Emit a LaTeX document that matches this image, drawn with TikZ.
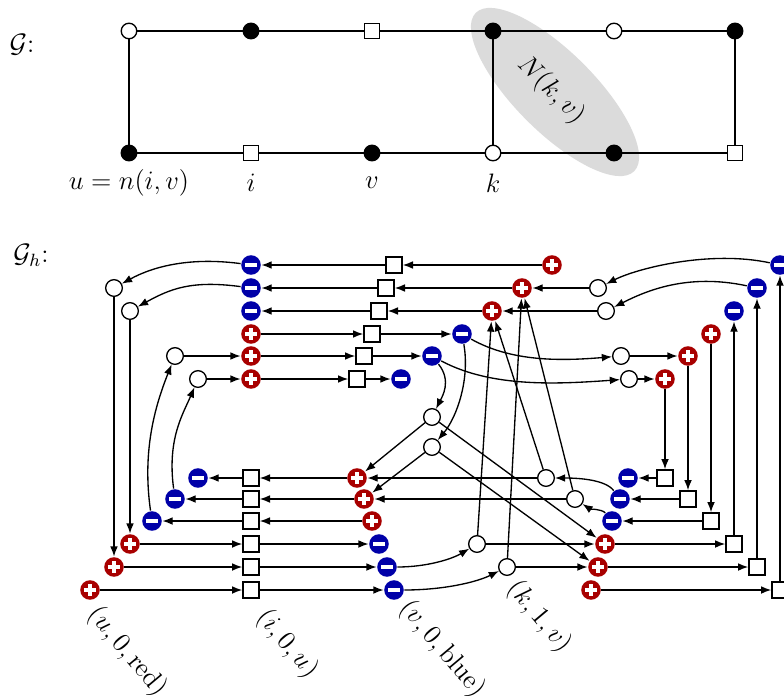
\documentclass[tikz,border=0pt]{standalone}
\usetikzlibrary{arrows.meta}
\definecolor{pcol}{RGB}{168,0,0}
\definecolor{ncol}{RGB}{0,0,168}
\begin{document}
\begin{tikzpicture}[x=0.45pt,y=-0.45pt,
  font=\fontsize{12}{14}\selectfont,
  every path/.style={line width=0.6pt},
  wc/.style={circle,draw,fill=white,minimum size=7.5pt,inner sep=0pt},
  tw/.style={circle,draw,fill=white,minimum size=7pt,inner sep=0pt},
  tb/.style={circle,draw,fill=black,minimum size=7pt,inner sep=0pt},
  ts/.style={rectangle,draw,fill=white,minimum size=6.8pt,inner sep=0pt},
  sq/.style={rectangle,draw,fill=white,minimum size=7.3pt,inner sep=0pt},
  posn/.style={circle,fill=pcol,minimum size=8.8pt,inner sep=0pt,
    path picture={\fill[white] ([xshift=-2.7pt,yshift=-0.7pt]path picture bounding box.center) rectangle ([xshift=2.7pt,yshift=0.7pt]path picture bounding box.center);
      \fill[white] ([xshift=-0.7pt,yshift=-2.7pt]path picture bounding box.center) rectangle ([xshift=0.7pt,yshift=2.7pt]path picture bounding box.center);}},
  negn/.style={circle,fill=ncol,minimum size=8.8pt,inner sep=0pt,
    path picture={\fill[white] ([xshift=-2.7pt,yshift=-0.7pt]path picture bounding box.center) rectangle ([xshift=2.7pt,yshift=0.7pt]path picture bounding box.center);}},
  ar/.style={-{Latex[length=4.6pt,width=3.5pt]}},
  lbl/.style={rotate=-50}
]
\useasboundingbox (0,0) rectangle (784,700);

% ---------- graph G ----------
\fill[black!14, rotate around={-45:(555,92)}] (555,92) ellipse [x radius=112, y radius=40];
\node[rotate=-45] (Nkv) at (551,90) {$N(k,v)$};
\node (lG) at (22,45) {$\mathcal{G}$:};
\node[tw] (gT1) at (129,31) {};
\node[tb] (gT2) at (251,31) {};
\node[ts] (gT3) at (372,31) {};
\node[tb] (gT4) at (493,31) {};
\node[tw] (gT5) at (614,31) {};
\node[tb] (gT6) at (735,31) {};
\node[tb] (gB1) at (129,153) {};
\node[ts] (gB2) at (251,153) {};
\node[tb] (gB3) at (372,153) {};
\node[tw] (gB4) at (493,153) {};
\node[tb] (gB5) at (614,153) {};
\node[ts] (gB6) at (735,153) {};
\draw (gT1) -- (gT2) -- (gT3) -- (gT4) -- (gT5) -- (gT6);
\draw (gB1) -- (gB2) -- (gB3) -- (gB4) -- (gB5) -- (gB6);
\draw (gT1) -- (gB1);
\draw (gT4) -- (gB4);
\draw (gT6) -- (gB6);
\node (lu) at (129,183) {$u=n(i,v)$};
\node (li) at (251,183) {$i$};
\node (lv) at (372,183) {$v$};
\node (lk) at (493,183) {$k$};

% ---------- graph G_h ----------
\node (lGh) at (31,255) {$\mathcal{G}_h$:};
% upper rows
\node[negn] (mA1) at (251,265) {};
\node[sq]   (sA1) at (394,265) {};
\node[posn] (pA1) at (552,265) {};
\node[negn] (mA2) at (251,288) {};
\node[sq]   (sA2) at (386,288) {};
\node[posn] (pA2) at (522,288) {};
\node[wc]   (cA2) at (598,288) {};
\node[negn] (mA3) at (251,311) {};
\node[sq]   (sA3) at (379,311) {};
\node[posn] (pA3) at (492,311) {};
\node[wc]   (cA3) at (606,311) {};
\node[posn] (pA4) at (251,334) {};
\node[sq]   (sA4) at (372,334) {};
\node[negn] (mA4) at (462,334) {};
\node[wc]   (cA5) at (175,356) {};
\node[posn] (pA5) at (251,356) {};
\node[sq]   (sA5) at (364,356) {};
\node[negn] (mA5) at (432,356) {};
\node[wc]   (cR5) at (621,356) {};
\node[posn] (pR5) at (688,356) {};
\node[wc]   (cA6) at (198,379) {};
\node[posn] (pA6) at (251,379) {};
\node[sq]   (sA6) at (357,379) {};
\node[negn] (mA6) at (401,379) {};
\node[wc]   (cR6) at (629,379) {};
\node[posn] (pR6) at (665,379) {};
\node[posn] (pR4) at (711,334) {};
\node[negn] (mR3) at (734,311) {};
\node[negn] (mR2) at (757,288) {};
\node[negn] (mR1) at (780,265) {};
\node[wc]   (cL1) at (114,288) {};
\node[wc]   (cL2) at (130,311) {};
\node[wc]   (cM1) at (432,417) {};
\node[wc]   (cM2) at (432,447) {};
% lower rows
\node[negn] (mB1) at (198,478) {};
\node[sq]   (sB1) at (251,478) {};
\node[posn] (pB1) at (357,478) {};
\node[wc]   (cB1) at (546,478) {};
\node[negn] (mB1r) at (628,478) {};
\node[sq]   (sB1r) at (665,478) {};
\node[negn] (mB2) at (175,499) {};
\node[sq]   (sB2) at (251,499) {};
\node[posn] (pB2) at (364,499) {};
\node[wc]   (cB2) at (575,499) {};
\node[negn] (mB2r) at (620,499) {};
\node[sq]   (sB2r) at (688,499) {};
\node[negn] (mB3) at (152,521) {};
\node[sq]   (sB3) at (251,521) {};
\node[posn] (pB3) at (372,521) {};
\node[negn] (mB3r) at (612,521) {};
\node[sq]   (sB3r) at (711,521) {};
\node[posn] (pB4) at (130,544) {};
\node[sq]   (sB4) at (251,544) {};
\node[negn] (mB4) at (379,544) {};
\node[wc]   (cB4) at (477,544) {};
\node[posn] (pB4r) at (605,544) {};
\node[sq]   (sB4r) at (734,544) {};
\node[posn] (pB5) at (114,567) {};
\node[sq]   (sB5) at (251,567) {};
\node[negn] (mB5) at (387,567) {};
\node[wc]   (cB5) at (507,567) {};
\node[posn] (pB5r) at (598,567) {};
\node[sq]   (sB5r) at (757,567) {};
\node[posn] (pB6) at (90,590) {};
\node[sq]   (sB6) at (251,590) {};
\node[negn] (mB6) at (394,590) {};
\node[posn] (pB6r) at (591,590) {};
\node[sq]   (sB6r) at (780,590) {};

% horizontal edges, upper
\draw[ar] (pA1) -- (sA1); \draw[ar] (sA1) -- (mA1);
\draw[ar] (cA2) -- (pA2); \draw[ar] (pA2) -- (sA2); \draw[ar] (sA2) -- (mA2);
\draw[ar] (cA3) -- (pA3); \draw[ar] (pA3) -- (sA3); \draw[ar] (sA3) -- (mA3);
\draw[ar] (pA4) -- (sA4); \draw[ar] (sA4) -- (mA4);
\draw[ar] (cA5) -- (pA5); \draw[ar] (pA5) -- (sA5); \draw[ar] (sA5) -- (mA5);
\draw[ar] (cA6) -- (pA6); \draw[ar] (pA6) -- (sA6); \draw[ar] (sA6) -- (mA6);
\draw[ar] (cR5) -- (pR5);
\draw[ar] (cR6) -- (pR6);
% horizontal edges, lower
\draw[ar] (cB1) -- (pB1); \draw[ar] (pB1) -- (sB1); \draw[ar] (sB1) -- (mB1);
\draw[ar] (cB2) -- (pB2); \draw[ar] (pB2) -- (sB2); \draw[ar] (sB2) -- (mB2);
\draw[ar] (pB3) -- (sB3); \draw[ar] (sB3) -- (mB3);
\draw[ar] (sB1r) -- (mB1r);
\draw[ar] (sB2r) -- (mB2r);
\draw[ar] (sB3r) -- (mB3r);
\draw[ar] (pB4) -- (sB4); \draw[ar] (sB4) -- (mB4);
\draw[ar] (cB4) -- (pB4r); \draw[ar] (pB4r) -- (sB4r);
\draw[ar] (pB5) -- (sB5); \draw[ar] (sB5) -- (mB5);
\draw[ar] (cB5) -- (pB5r); \draw[ar] (pB5r) -- (sB5r);
\draw[ar] (pB6) -- (sB6); \draw[ar] (sB6) -- (mB6);
\draw[ar] (pB6r) -- (sB6r);
% verticals
\draw[ar] (cL1) -- (pB5);
\draw[ar] (cL2) -- (pB4);
\draw[ar] (pR6) -- (sB1r);
\draw[ar] (pR5) -- (sB2r);
\draw[ar] (pR4) -- (sB3r);
\draw[ar] (sB4r) -- (mR3);
\draw[ar] (sB5r) -- (mR2);
\draw[ar] (sB6r) -- (mR1);
% diagonals
\draw[ar] (cM1) -- (pB1);
\draw[ar] (cM2) -- (pB2);
\draw[ar] (cM1) -- (pB4r);
\draw[ar] (cM2) -- (pB5r);
\draw[ar] (cB4) -- (pA3);
\draw[ar] (cB5) -- (pA2);
\draw[ar] (cB1) -- (pA3);
\draw[ar] (cB2) -- (pA2);
% curves
\draw[ar] (mA1) .. controls +(-60,-8) and +(40,-22) .. (cL1);
\draw[ar] (mA2) .. controls +(-60,-8) and +(40,-22) .. (cL2);
\draw[ar] (mR1) .. controls +(-70,-15) and +(40,-20) .. (cA2);
\draw[ar] (mR2) .. controls +(-70,-15) and +(40,-20) .. (cA3);
\draw[ar] (mA4) .. controls +(50,28) and +(-60,5) .. (cR5);
\draw[ar] (mA5) .. controls +(60,32) and +(-70,5) .. (cR6);
\draw[ar] (mA4) .. controls +(8,45) and +(25,-30) .. (cM2);
\draw[ar] (mA5) .. controls +(20,25) and +(10,-20) .. (cM1);
\draw[ar] (mB3r) .. controls +(-10,-12) and +(15,10) .. (cB2);
\draw[ar] (mB2r) .. controls +(-15,-20) and +(30,0) .. (cB1);
\draw[ar] (mB5) .. controls +(40,0) and +(-25,15) .. (cB4);
\draw[ar] (mB6) .. controls +(50,0) and +(-30,15) .. (cB5);
\draw[ar] (mB3) .. controls +(-10,-70) and +(-20,50) .. (cA5);
\draw[ar] (mB2) .. controls +(-8,-60) and +(-15,35) .. (cA6);

% rotated labels
\node[lbl] (tu) at (127,652) {$(u,0,\mathrm{red})$};
\node[lbl] (ti) at (287,644) {$(i,0,u)$};
\node[lbl] (tv) at (442,649) {$(v,0,\mathrm{blue})$};
\node[lbl] (tk) at (539,617) {$(k,1,v)$};
\end{tikzpicture}
\end{document}
